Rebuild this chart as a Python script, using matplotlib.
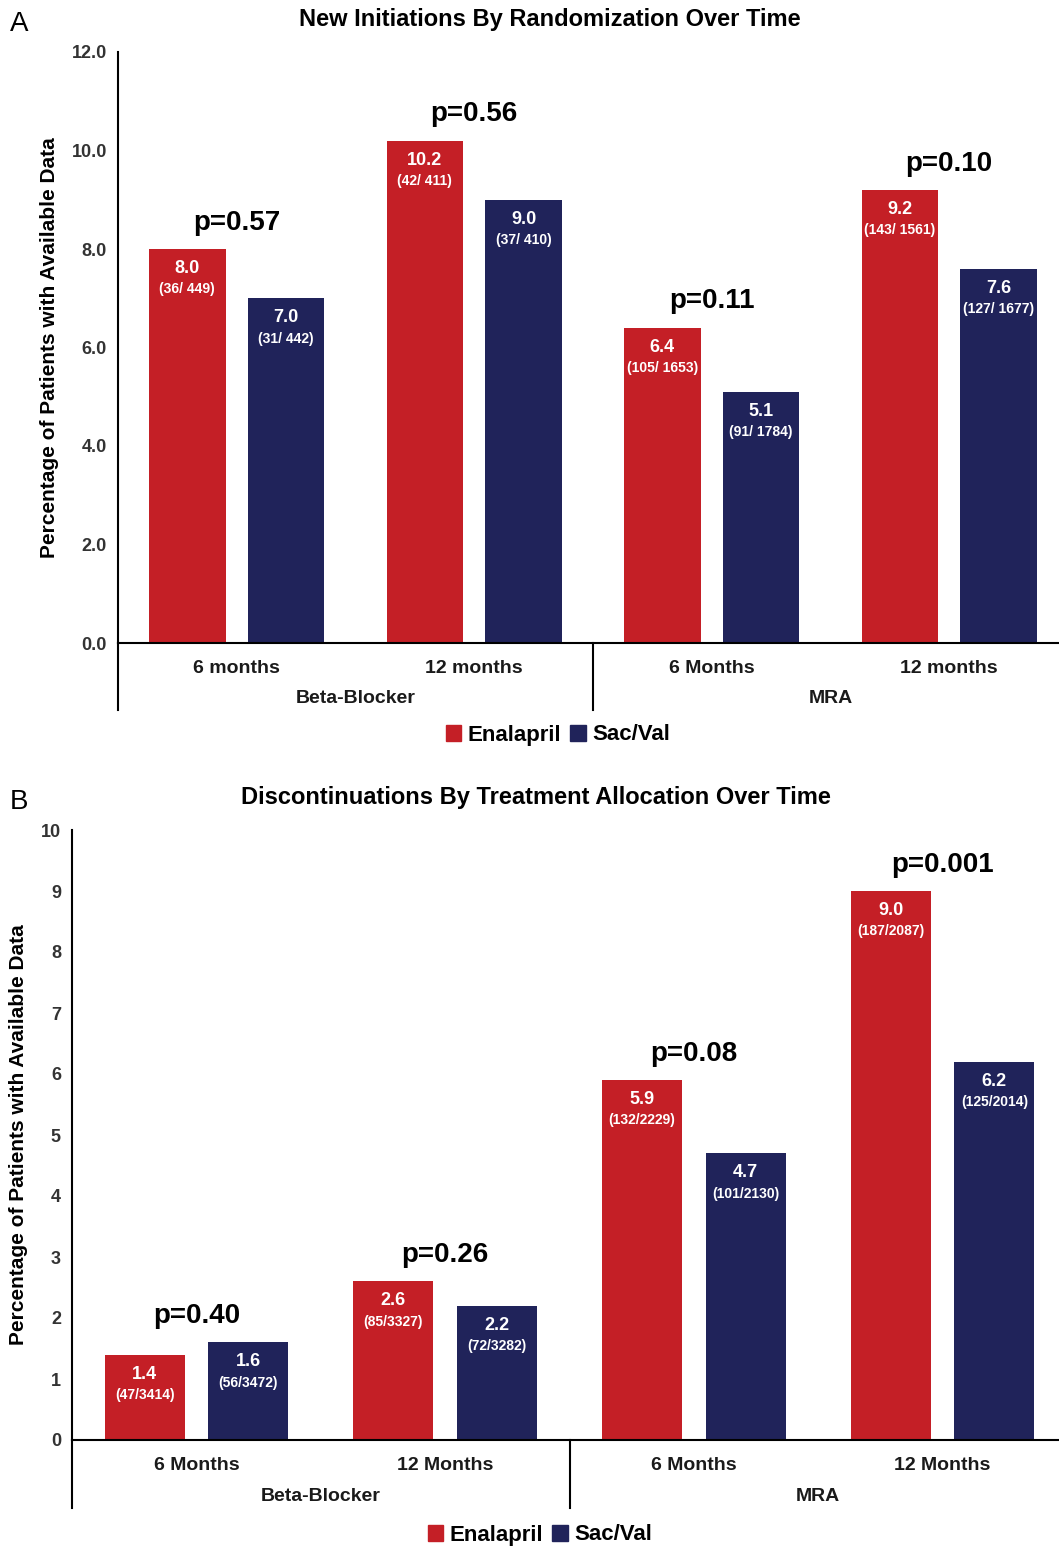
import matplotlib
matplotlib.use("Agg")
import matplotlib.pyplot as plt
from matplotlib.patches import Patch
import numpy as np

plt.rcParams['font.family'] = ['Liberation Sans Narrow', 'Liberation Sans', 'DejaVu Sans']

RED = "#C41F26"
NAVY = "#20235A"

groups = ["Beta-Blocker", "MRA"]

# Panel A: new initiations
a_cats = ["6 months", "12 months", "6 Months", "12 months"]
a_enal = [8.0, 10.2, 6.4, 9.2]
a_enal_n = ["(36/ 449)", "(42/ 411)", "(105/ 1653)", "(143/ 1561)"]
a_sac = [7.0, 9.0, 5.1, 7.6]
a_sac_n = ["(31/ 442)", "(37/ 410)", "(91/ 1784)", "(127/ 1677)"]
a_p = ["p=0.57", "p=0.56", "p=0.11", "p=0.10"]

# Panel B: discontinuations
b_cats = ["6 Months", "12 Months", "6 Months", "12 Months"]
b_enal = [1.4, 2.6, 5.9, 9.0]
b_enal_n = ["(47/3414)", "(85/3327)", "(132/2229)", "(187/2087)"]
b_sac = [1.6, 2.2, 4.7, 6.2]
b_sac_n = ["(56/3472)", "(72/3282)", "(101/2130)", "(125/2014)"]
b_p = ["p=0.40", "p=0.26", "p=0.08", "p=0.001"]


def draw_panel(fig, rect, cats, enal, enal_n, sac, sac_n, pvals, yticks, fmt,
               title, title_x, letter, legend_x, legend_y, ext):
    ax = fig.add_axes(rect)
    x = np.arange(len(cats))
    w, off = 0.322, 0.208
    ax.bar(x - off, enal, w, color=RED)
    ax.bar(x + off, sac, w, color=NAVY)
    for xs, vals, ns in ((x - off, enal, enal_n), (x + off, sac, sac_n)):
        for xi, v, n in zip(xs, vals, ns):
            ax.annotate(f"{v:.1f}", (xi, v), xytext=(0, -14), textcoords="offset points",
                        ha="center", va="center", color="white", fontsize=13, fontweight="bold")
            ax.annotate(n, (xi, v), xytext=(0, -29), textcoords="offset points",
                        ha="center", va="center", color="white", fontsize=10, fontweight="bold")
    for xi, e, s, p in zip(x, enal, sac, pvals):
        ax.annotate(p, (xi, max(e, s)), xytext=(0, 19), textcoords="offset points",
                    ha="center", va="center", color="black", fontsize=20, fontweight="bold")
    ax.set_xlim(-0.5, len(cats) - 0.5)
    ax.set_ylim(yticks[0], yticks[-1])
    ax.set_yticks(yticks)
    ax.set_yticklabels([fmt.format(t) for t in yticks], fontsize=13, fontweight="bold", color="#333333")
    ax.set_xticks(x)
    ax.set_xticklabels(cats, fontsize=14, fontweight="bold", color="#1a1a1a")
    ax.tick_params(length=0, axis="both")
    ax.tick_params(axis="x", pad=12)
    ax.tick_params(axis="y", pad=8)
    for s in ("top", "right"):
        ax.spines[s].set_visible(False)
    ax.spines["left"].set_linewidth(1.5)
    ax.spines["bottom"].set_linewidth(1.5)
    # group brackets below the axis
    for gx in (0.0, 0.5):
        ax.plot([gx, gx], [0, -ext], transform=ax.transAxes, color="black", lw=1.5, clip_on=False)
    for gi, g in enumerate(groups):
        ax.text(0.25 + 0.5 * gi, -ext * 0.83, g, transform=ax.transAxes, ha="center", va="center",
                fontsize=14, fontweight="bold", color="#1a1a1a")
    ax.set_ylabel("Percentage of Patients with Available Data", fontsize=15, fontweight="bold",
                  labelpad=9)
    fig.text(title_x, rect[1] + rect[3] + 0.021, title, ha="center", va="center",
             fontsize=17, fontweight="bold")
    fig.text(0.009, rect[1] + rect[3] + 0.018, letter, ha="left", va="center", fontsize=20)
    handles = [Patch(color=RED, label="Enalapril"), Patch(color=NAVY, label="Sac/Val")]
    fig.legend(handles=handles, loc="center", bbox_to_anchor=(legend_x, legend_y), ncol=2,
               frameon=False, prop={"weight": "bold", "size": 16}, handlelength=0.7,
               handleheight=0.7, handletextpad=0.3, columnspacing=0.4)
    return ax


fig = plt.figure(figsize=(10.59, 15.46), dpi=100)

draw_panel(fig, [118 / 1059, 903 / 1546, 950 / 1059, 591 / 1546], a_cats, a_enal, a_enal_n,
           a_sac, a_sac_n, a_p, np.arange(0, 12.1, 2.0), "{:.1f}",
           "New Initiations By Randomization Over Time", 550 / 1059, "A",
           558 / 1059, 1 - 735 / 1546, 67 / 591)
draw_panel(fig, [72 / 1059, 106 / 1546, 995 / 1059, 610 / 1546], b_cats, b_enal, b_enal_n,
           b_sac, b_sac_n, b_p, np.arange(0, 11, 1), "{:.0f}",
           "Discontinuations By Treatment Allocation Over Time", 536 / 1059, "B",
           540 / 1059, 1 - 1535 / 1546, 68 / 610)

fig.savefig("out.png", dpi=100)
